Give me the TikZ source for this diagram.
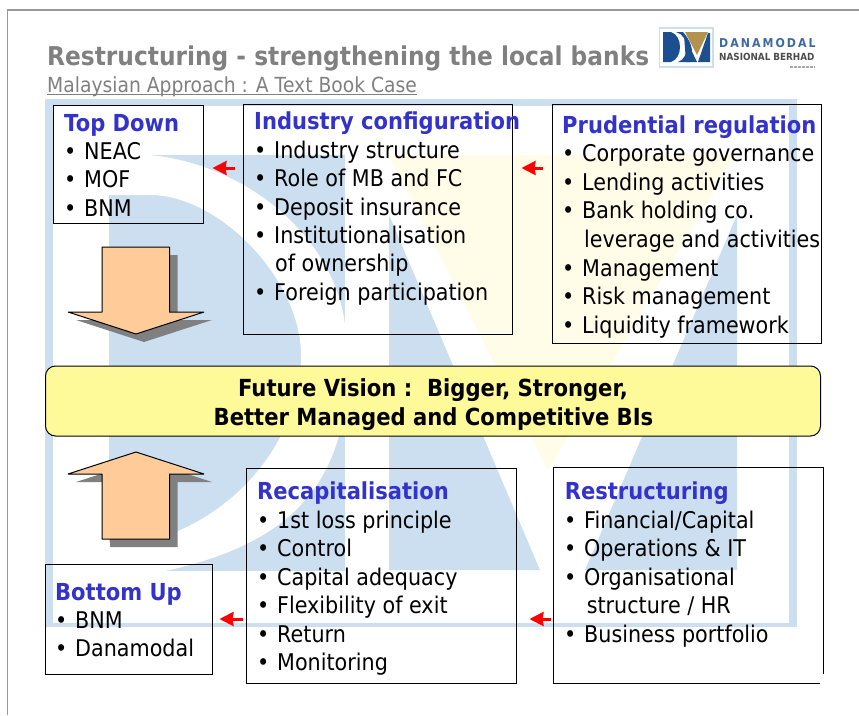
\documentclass[tikz,border=0pt]{standalone}
\usepackage{fontspec}
\setmainfont{DejaVu Sans}[FakeStretch=0.9]
\usetikzlibrary{arrows.meta}
\definecolor{wmblue}{HTML}{CBDFF0}
\definecolor{wmyellow}{HTML}{FFFCE8}
\definecolor{headblue}{HTML}{3333CC}
\definecolor{titlegray}{HTML}{808080}
\definecolor{logoblue}{HTML}{1B4F8F}
\definecolor{logogold}{HTML}{B3924F}
\newcommand{\bl}[1]{\makebox[20pt][l]{\textbullet}#1}

\begin{document}
\begin{tikzpicture}[x=1pt,y=-1pt]
\tikzstyle{recti}=[rectangle,draw=black,line width=1pt,inner sep=0pt]
\tikzstyle{head}=[anchor=base west,inner sep=0pt,text=headblue,font=\fontsize{23.4}{23.4}\selectfont\bfseries]
\tikzstyle{item}=[anchor=base west,inner sep=0pt,font=\fontsize{23}{23}\selectfont]
\tikzstyle{vision}=[anchor=base,inner sep=0pt,font=\fontsize{23.5}{23.5}\selectfont\bfseries]
\tikzstyle{bigarrow}=[fill=orange!40!white,draw=black,line width=1pt,line join=bevel]
\tikzstyle{arrowshadow}=[fill=titlegray]
\tikzstyle{redarrow}=[draw=red,line width=3pt,-{Stealth[length=14pt,width=14pt,inset=1pt]}]
\useasboundingbox (0,0) rectangle (859,715);
% watermark
\fill [wmblue] (45,99) rectangle (797,106);
\fill [wmblue] (45,99) rectangle (53,627);
\fill [wmblue] (45,623) rectangle (797,627);
\fill [wmblue] (789,99) rectangle (797,627);
\fill [wmblue] (109,155) rectangle (345,571);
\fill [white] (105,150) -- (150,155) .. controls (250,165) and (335,240) .. (345,325) -- (346,400) .. controls (335,490) and (285,545) .. (165,571) -- (105,571) -- (105,543) -- (178,531) .. controls (250,500) and (301,430) .. (301,355) .. controls (301,280) and (220,195) .. (150,195) -- (105,195) -- cycle;
\fill [white] (105,150) rectangle (350,155);
\fill [wmyellow] (389,155) -- (735,155) -- (548,470) -- cycle;
\fill [wmblue] (389,215) -- (540,570) -- (389,570) -- cycle;
\fill [wmblue] (585,570) -- (737,215) -- (737,570) -- cycle;
% page frame
\draw [color=gray!80,line width=1.5pt] (7.5,715) -- (7.5,10) -- (859,10);
% title
\node [anchor=base west,inner sep=0pt,text=titlegray,font=\fontsize{25.9}{25.9}\selectfont\bfseries] (title) at (47,65) {Restructuring - strengthening the local banks};
\node [anchor=base west,inner sep=0pt,text=titlegray,font=\fontsize{20.8}{20.8}\selectfont] (subtitle) at (47,92) {Malaysian Approach : A Text Book Case};
\draw [color=titlegray,line width=0.8pt] ([yshift=-2pt]subtitle.base west) -- ([yshift=-2pt]subtitle.base east);
% logo
\draw [color=wmblue,line width=1.5pt] (659.5,28) rectangle (713,67);
\fill [logoblue] (663,32) -- (671,32) .. controls (683,36) and (683,58) .. (671,62) -- (663,62) -- cycle;
\fill [logoblue] (676,32) .. controls (690,36) and (690,58) .. (678,62) -- (690,62) .. controls (695,50) and (690,40) .. (683,32) -- cycle;
\fill [logoblue] (684,35) -- (697,62) -- (686,62) -- cycle;
\fill [logoblue] (708,33) -- (710,33) -- (710,62) -- (698,62) -- cycle;
\fill [logogold] (685,32) -- (708,32) -- (697,55) -- cycle;
\node [anchor=base west,inner sep=0pt,text=logoblue!85,font=\fontsize{12.2}{12.2}\selectfont\bfseries] (logoname) at (719,47) {D\,A\,N\,A\,M\,O\,D\,A\,L};
\node [anchor=base west,inner sep=0pt,text=black!70,font=\fontsize{9.8}{9.8}\selectfont\bfseries] (logosub) at (719,60) {NASIONAL BERHAD};
\draw [color=gray!70,line width=1.5pt,dash pattern=on 3pt off 1pt] (790,67) -- (815,67);
% boxes
\node [recti,minimum width=150pt,minimum height=118pt] (topdown) at (128,164) {};
\node [recti,minimum width=269pt,minimum height=230pt] (industry) at (377.5,219) {};
\node [recti,minimum width=269pt,minimum height=239pt] (prudential) at (686.5,223.5) {};
\node [recti,rounded corners=10pt,fill=yellow!40!white,minimum width=775pt,minimum height=70pt] (future) at (433,401) {};
\node [recti,minimum width=167pt,minimum height=110pt] (bottomup) at (128.5,619) {};
\node [recti,minimum width=269.5pt,minimum height=215pt] (recap) at (381.25,575.5) {};
\node [inner sep=0pt,minimum width=269.5pt,minimum height=215pt] (restruct) at (688.25,575.5) {};
\draw [line width=1pt] ([xshift=-3pt]restruct.south east) -- (restruct.south west) -- (restruct.north west) -- (restruct.north east) -- ([yshift=9pt]restruct.south east);
% big arrows
\fill [arrowshadow,shift={(8,8)}] (102,247) -- (169.5,247) -- (169.5,312) -- (204,312) -- (136,334) -- (68,312) -- (102,312) -- cycle;
\draw [bigarrow] (102,247) -- (169.5,247) -- (169.5,312) -- (204,312) -- (136,334) -- (68,312) -- (102,312) -- cycle;
\fill [arrowshadow,shift={(8,8)}] (102,539) -- (169.5,539) -- (169.5,474) -- (204,474) -- (136,452) -- (68,474) -- (102,474) -- cycle;
\draw [bigarrow] (102,539) -- (169.5,539) -- (169.5,474) -- (204,474) -- (136,452) -- (68,474) -- (102,474) -- cycle;
% red arrows
\coordinate (upper) at (0,168);
\coordinate (lower) at (0,619);
\draw [redarrow,shorten <=8pt,shorten >=9pt] (industry.west |- upper) -- (topdown.east |- upper);
\draw [redarrow,shorten <=9pt,shorten >=9pt] (prudential.west |- upper) -- (industry.east |- upper);
\draw [redarrow,shorten <=3pt,shorten >=7pt] (recap.west |- lower) -- (bottomup.east |- lower);
\draw [redarrow,shorten <=2pt,shorten >=13pt] (restruct.west |- lower) -- (recap.east |- lower);
% top down
\node [head] (tdhead) at (64,131.5) {Top Down};
\node [item] (td1) at (64,159) {\bl{NEAC}};
\node [item] (td2) at (64,187.5) {\bl{MOF}};
\node [item] (td3) at (64,216) {\bl{BNM}};
% industry configuration
\node [head] (inhead) at (254,129) {Industry configuration};
\node [item] (in1) at (254,158) {\bl{Industry structure}};
\node [item] (in2) at (254,186.5) {\bl{Role of MB and FC}};
\node [item] (in3) at (254,215) {\bl{Deposit insurance}};
\node [item] (in4) at (254,243.7) {\bl{Institutionalisation}};
\node [item] (in5) at (275,271.7) {of ownership};
\node [item] (in6) at (254,300) {\bl{Foreign participation}};
% prudential regulation
\node [head] (prhead) at (562,133) {Prudential regulation};
\node [item] (pr1) at (562,161.7) {\bl{Corporate governance}};
\node [item] (pr2) at (562,190) {\bl{Lending activities}};
\node [item] (pr3) at (562,218) {\bl{Bank holding co.}};
\node [item] (pr4) at (584,247.7) {leverage and activities};
\node [item] (pr5) at (562,276) {\bl{Management}};
\node [item] (pr6) at (562,304) {\bl{Risk management}};
\node [item] (pr7) at (562,333) {\bl{Liquidity framework}};
% future vision
\node [vision] (fv1) at (433,396) {Future Vision :\ \ Bigger, Stronger,};
\node [vision] (fv2) at (433.5,425) {Better Managed and Competitive BIs};
% bottom up
\node [head] (buhead) at (55,600) {Bottom Up};
\node [item] (bu1) at (55,628) {\bl{BNM}};
\node [item] (bu2) at (55,656.7) {\bl{Danamodal}};
% recapitalisation
\node [head] (rchead) at (257,499) {Recapitalisation};
\node [item] (rc1) at (257,528) {\bl{1st loss principle}};
\node [item] (rc2) at (257,556) {\bl{Control}};
\node [item] (rc3) at (257,585) {\bl{Capital adequacy}};
\node [item] (rc4) at (257,613) {\bl{Flexibility of exit}};
\node [item] (rc5) at (257,642) {\bl{Return}};
\node [item] (rc6) at (257,670.7) {\bl{Monitoring}};
% restructuring
\node [head] (rshead) at (564.7,499) {Restructuring};
\node [item] (rs1) at (564,528) {\bl{Financial/Capital}};
\node [item] (rs2) at (564,556) {\bl{Operations \& IT}};
\node [item] (rs3) at (564,585) {\bl{Organisational}};
\node [item] (rs4) at (586.6,613) {structure / HR};
\node [item] (rs5) at (564,642) {\bl{Business portfolio}};
\end{tikzpicture}
\end{document}
